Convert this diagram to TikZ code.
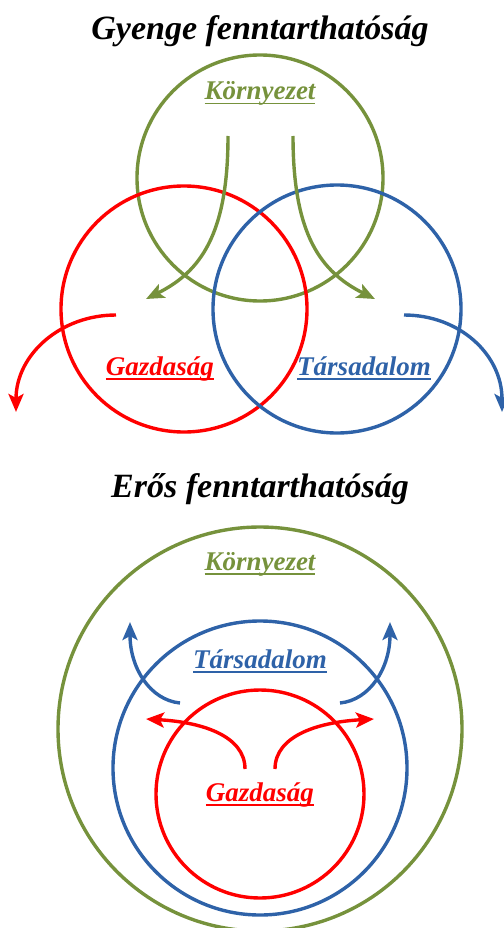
\documentclass[tikz,border=0pt]{standalone}
\usepackage{fontspec}
\setmainfont{Liberation Serif}
\usetikzlibrary{arrows.meta}
\definecolor{envgreen}{HTML}{76923C}
\definecolor{socblue}{HTML}{2E62A8}
\definecolor{ecored}{HTML}{FF0000}
\newcommand{\ulbox}[1]{{\setbox0\hbox{#1}\rlap{\rule[-4.5pt]{\wd0}{1.5pt}}\box0}}
\tikzset{
  ring/.style={draw=#1, line width=3.4pt},
  flow/.style={draw=#1, line width=3.4pt, -{Stealth[length=18pt,width=15pt,inset=4pt]}},
  title/.style={font=\fontsize{34}{34}\selectfont\bfseries\itshape, anchor=base, inner sep=0pt},
  lbl/.style={text=#1, font=\fontsize{27}{27}\selectfont\bfseries\itshape, anchor=base, inner sep=0pt}
}
\begin{document}
\begin{tikzpicture}[x=1pt,y=-1pt]
\useasboundingbox (0,0) rectangle (503,928);
% ---- top: weak sustainability ----
\node[title] (t1) at (260,40) {Gyenge fenntarthatóság};
\node[ring=envgreen, circle, minimum size=246pt, inner sep=0pt] (envA) at (260,178) {};
\node[ring=ecored, circle, minimum size=246pt, inner sep=0pt] (ecoA) at (184,309) {};
\node[ring=socblue, circle, minimum size=248pt, inner sep=0pt] (socA) at (337,309) {};
\node[lbl=envgreen] (lenvA) at (260,100) {\ulbox{Környezet}};
\node[lbl=ecored] (lecoA) at (160,375) {\ulbox{Gazdaság}};
\node[lbl=socblue] (lsocA) at (364,375) {\ulbox{Társadalom}};
\coordinate (g1s) at (228,136);
\coordinate (g1e) at (146,299);
\coordinate (g2s) at (293,136);
\coordinate (g2e) at (375,299);
\draw[flow=envgreen] (g1s) .. controls (228,235) and (200,272) .. (g1e);
\draw[flow=envgreen] (g2s) .. controls (293,235) and (321,272) .. (g2e);
\coordinate (r1s) at (116,315);
\coordinate (r1e) at (16,412);
\coordinate (b1s) at (404,315);
\coordinate (b1e) at (502,412);
\draw[flow=ecored] (r1s) .. controls (60,315) and (16,355) .. (r1e);
\draw[flow=socblue] (b1s) .. controls (460,315) and (502,355) .. (b1e);
% ---- bottom: strong sustainability ----
\node[title] (t2) at (260,497) {Erős fenntarthatóság};
\node[ring=envgreen, circle, minimum size=404pt, inner sep=0pt] (envB) at (260,729) {};
\node[ring=socblue, circle, minimum size=294pt, inner sep=0pt] (socB) at (260,768) {};
\node[ring=ecored, circle, minimum size=208pt, inner sep=0pt] (ecoB) at (260,794) {};
\node[lbl=envgreen] (lenvB) at (260,570) {\ulbox{Környezet}};
\node[lbl=socblue] (lsocB) at (260,668) {\ulbox{Társadalom}};
\node[lbl=ecored] (lecoB) at (260,801) {\ulbox{Gazdaság}};
\coordinate (b2s) at (180,703);
\coordinate (b2e) at (130,622);
\coordinate (b3s) at (340,703);
\coordinate (b3e) at (390,622);
\draw[flow=socblue] (b2s) .. controls (150,700) and (130,668) .. (b2e);
\draw[flow=socblue] (b3s) .. controls (370,700) and (390,668) .. (b3e);
\coordinate (r2s) at (245,769);
\coordinate (r2e) at (146,719);
\coordinate (r3s) at (275,769);
\coordinate (r3e) at (374,719);
\draw[flow=ecored] (r2s) .. controls (245,735) and (200,722) .. (r2e);
\draw[flow=ecored] (r3s) .. controls (275,735) and (320,722) .. (r3e);
\end{tikzpicture}
\end{document}
